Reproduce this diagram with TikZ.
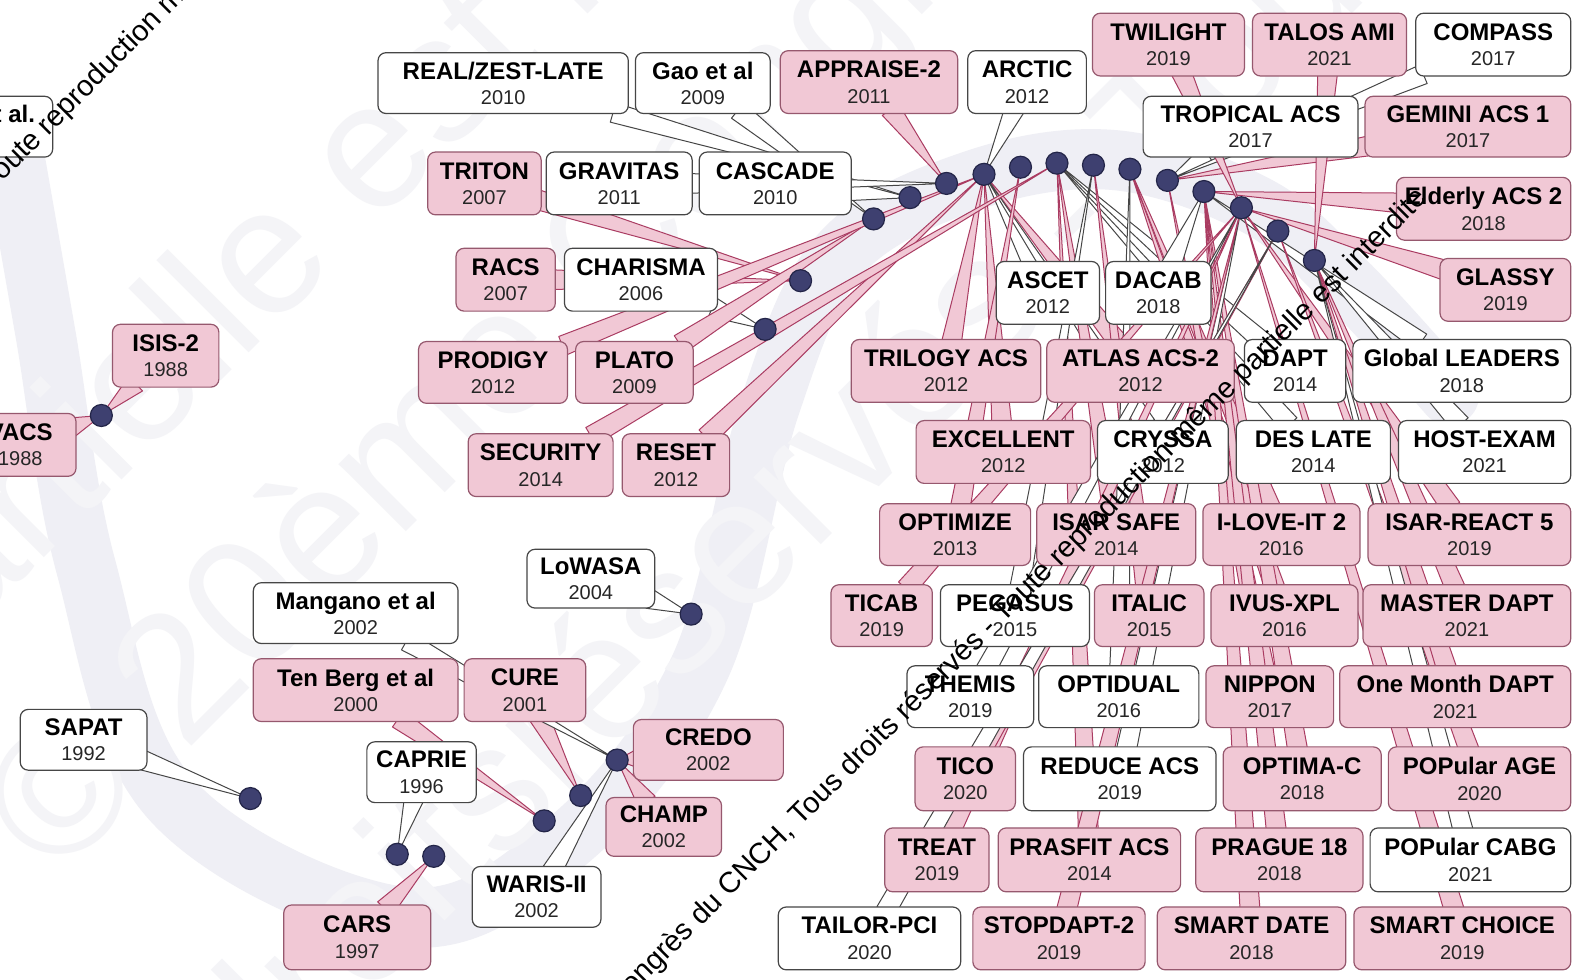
\documentclass[tikz,border=0pt]{standalone}
\usepackage{fontspec}
\setmainfont{Liberation Sans}
\usetikzlibrary{calc}
\definecolor{pinkfill}{RGB}{241,200,213}
\definecolor{pinkline}{RGB}{170,60,98}
\definecolor{boxpinkline}{RGB}{150,88,110}
\definecolor{greyline}{RGB}{70,70,70}
\definecolor{dotfill}{RGB}{62,64,112}
\definecolor{dotline}{RGB}{35,37,72}
\definecolor{bandcol}{RGB}{239,239,245}
\definecolor{faint}{RGB}{244,244,247}
\pgfdeclarelayer{back}
\pgfdeclarelayer{bg}
\pgfdeclarelayer{fg}
\pgfsetlayers{back,bg,main,fg}
\tikzset{
 boxbase/.style={rounded corners=4pt, line width=0.6pt, align=center, inner sep=0pt,
   font=\bfseries\fontsize{12}{12.7}\selectfont},
 pbox/.style={boxbase, draw=boxpinkline, fill=pinkfill},
 wbox/.style={boxbase, draw=greyline, fill=white},
 pwedge/.style={fill=pinkfill, draw=pinkline, line width=0.5pt, line join=round},
 wwedge/.style={fill=white, draw=greyline, line width=0.5pt, line join=round},
 tdot/.style={circle, fill=dotfill, draw=dotline, line width=0.6pt, minimum size=11pt, inner sep=0pt},
 bandline/.style={line width=30pt, draw=bandcol, line cap=round},
 faintwm/.style={rotate=45, text=faint, font=\fontsize{90}{90}\selectfont, inner sep=0pt},
 darkwm/.style={rotate=45, text=black, font=\fontsize{14.6}{16}\selectfont, inner sep=0pt},
}
\newcommand\yr[1]{{\mdseries\fontsize{10}{12.7}\selectfont\color{black!85}#1}}
\newcommand\wg[3]{%
 \path let \p1=($(#3.center)-(#2.center)$), \n1={atan2(\y1,\x1)} in
   ($(#2.\n1)!3pt!(#2.center)$) coordinate (wb);
 \filldraw[#1] ($(wb)!5pt!90:(#3.center)$) -- (#3.center) -- ($(wb)!5pt!-90:(#3.center)$) -- cycle;}
\newcommand\cb[9]{%
 \node[#6box, minimum width={(#4-#2)*0.5067pt}, minimum height={(#5-#3)*0.5067pt}]
   (#1) at ({(#2+#4)/2},{(#3+#5)/2}) {#7\\\yr{#8}};
 \begin{pgfonlayer}{bg}\wg{#6wedge}{#1}{#9}\end{pgfonlayer}}
\begin{document}
\begin{tikzpicture}[x=0.5067pt, y=-0.5067pt]
\useasboundingbox (0,0) rectangle (1568,967);
\begin{pgfonlayer}{back}
\fill[white] (0,0) rectangle (1568,967);
\draw[bandline] plot[smooth, tension=0.6] coordinates {(10,130) (45,330) (85,560) (170,790) (400,905) (560,830) (690,660) (760,400) (830,250) (960,178) (1100,158) (1240,203) (1330,280) (1430,390)};
\node[faintwm, anchor=base west] (fa) at (55,870) {© 20ème Congrès du CNCH,};
\node[faintwm, anchor=base east] (fb1) at (-105,699) {même };
\node[faintwm, anchor=base west] (fb2) at (-105,699) {partielle est interdite};
\node[faintwm, anchor=base east] (fc1) at (557,791) {Tous droits };
\node[faintwm, anchor=base west] (fc2) at (557,791) {réservés - Toute reproduction};
\end{pgfonlayer}
% dots
\begin{pgfonlayer}{fg}
\foreach \n/\x/\y in {88/100/410, 92/247/788, 96/392/843, 97/428/845, 00/537/810, 01/573/785,
  02/609/750, 04/682/606, 06/755/325, 07/790/277, 09/862/216, 10/898/195, 11/934/181,
  12/971/172, 13/1007/165, 14/1043/161, 15/1079/163, 16/1115/167, 17/1152/178,
  18/1188/189, 19/1225/205, 20/1261/228, 21/1297/257}
  {\node[tdot] (d\n) at (\x,\y) {};}
\end{pgfonlayer}
% boxes
\node[wbox, minimum width={152*0.5067pt}, minimum height={60*0.5067pt}] (etal) at (-24,125) {};
\node[anchor=base east, inner sep=0pt, font=\bfseries\fontsize{12}{12.7}\selectfont] (etaltxt) at (35,121) {et al.};
\cb{vacs}{-35}{408}{75}{470}{p}{VACS}{1988}{d88}
\cb{isis}{111}{320}{216}{382}{p}{ISIS-2}{1988}{d88}
\cb{sapat}{20}{700}{145}{760}{w}{SAPAT}{1992}{d92}
\cb{caprie}{362}{732}{470}{792}{w}{CAPRIE}{1996}{d96}
\cb{cars}{280}{893}{425}{957}{p}{CARS}{1997}{d97}
\cb{tenberg}{250}{650}{452}{712}{p}{Ten Berg et al}{2000}{d00}
\cb{cure}{458}{650}{578}{712}{p}{CURE}{2001}{d01}
\cb{mangano}{250}{575}{452}{635}{w}{Mangano et al}{2002}{d02}
\cb{credo}{625}{710}{773}{770}{p}{CREDO}{2002}{d02}
\cb{champ}{598}{787}{712}{845}{p}{CHAMP}{2002}{d02}
\cb{waris}{466}{855}{593}{915}{w}{WARIS-II}{2002}{d02}
\cb{lowasa}{520}{542}{646}{600}{w}{LoWASA}{2004}{d04}
\cb{charisma}{557}{245}{708}{307}{w}{CHARISMA}{2006}{d06}
\cb{racs}{450}{245}{548}{307}{p}{RACS}{2007}{d07}
\cb{triton}{422}{150}{534}{212}{p}{TRITON}{2007}{d07}
\cb{gao}{627}{52}{760}{112}{w}{Gao et al}{2009}{d09}
\cb{plato}{568}{337}{684}{398}{p}{PLATO}{2009}{d09}
\cb{real}{373}{52}{620}{112}{w}{REAL/ZEST-LATE}{2010}{d10}
\cb{cascade}{690}{150}{840}{212}{w}{CASCADE}{2010}{d10}
\cb{appraise}{770}{50}{945}{112}{p}{APPRAISE-2}{2011}{d11}
\cb{gravitas}{539}{150}{683}{212}{w}{GRAVITAS}{2011}{d11}
\cb{arctic}{955}{50}{1072}{112}{w}{ARCTIC}{2012}{d12}
\cb{prodigy}{413}{337}{560}{398}{p}{PRODIGY}{2012}{d12}
\cb{reset}{614}{428}{720}{490}{p}{RESET}{2012}{d12}
\cb{trilogy}{840}{335}{1027}{397}{p}{TRILOGY ACS}{2012}{d12}
\cb{atlas}{1033}{335}{1218}{397}{p}{ATLAS ACS-2}{2012}{d12}
\cb{ascet}{983}{258}{1085}{320}{w}{ASCET}{2012}{d12}
\cb{excellent}{904}{415}{1076}{477}{p}{EXCELLENT}{2012}{d12}
\cb{cryssa}{1083}{415}{1212}{477}{w}{CRYSSA}{2012}{d12}
\cb{optimize}{868}{497}{1017}{558}{p}{OPTIMIZE}{2013}{d13}
\cb{security}{462}{428}{605}{490}{p}{SECURITY}{2014}{d14}
\cb{dapt}{1228}{335}{1328}{397}{w}{DAPT}{2014}{d14}
\cb{deslate}{1220}{415}{1372}{477}{w}{DES LATE}{2014}{d14}
\cb{isarsafe}{1023}{497}{1180}{558}{p}{ISAR SAFE}{2014}{d14}
\cb{prasfit}{985}{817}{1165}{880}{p}{PRASFIT ACS}{2014}{d14}
\cb{pegasus}{928}{577}{1075}{638}{w}{PEGASUS}{2015}{d15}
\cb{italic}{1080}{577}{1188}{638}{p}{ITALIC}{2015}{d15}
\cb{iloveit}{1187}{497}{1342}{558}{p}{I-LOVE-IT 2}{2016}{d16}
\cb{ivus}{1195}{577}{1340}{638}{p}{IVUS-XPL}{2016}{d16}
\cb{optidual}{1025}{657}{1183}{718}{w}{OPTIDUAL}{2016}{d16}
\cb{tropical}{1128}{95}{1340}{155}{w}{TROPICAL ACS}{2017}{d17}
\cb{gemini}{1347}{95}{1550}{155}{p}{GEMINI ACS 1}{2017}{d17}
\cb{compass}{1397}{13}{1550}{75}{w}{COMPASS}{2017}{d17}
\cb{nippon}{1190}{657}{1316}{718}{p}{NIPPON}{2017}{d17}
\cb{dacab}{1091}{258}{1195}{320}{w}{DACAB}{2018}{d18}
\cb{elderly}{1378}{175}{1550}{237}{p}{Elderly ACS 2}{2018}{d18}
\cb{global}{1335}{335}{1550}{397}{w}{Global LEADERS}{2018}{d18}
\cb{optimac}{1207}{737}{1363}{800}{p}{OPTIMA-C}{2018}{d18}
\cb{prague}{1180}{817}{1345}{880}{p}{PRAGUE 18}{2018}{d18}
\cb{smartdate}{1142}{895}{1328}{957}{p}{SMART DATE}{2018}{d18}
\cb{twilight}{1078}{13}{1228}{75}{p}{TWILIGHT}{2019}{d19}
\cb{glassy}{1421}{255}{1550}{317}{p}{GLASSY}{2019}{d19}
\cb{isarreact}{1350}{497}{1550}{558}{p}{ISAR-REACT 5}{2019}{d19}
\cb{ticab}{820}{577}{920}{638}{p}{TICAB}{2019}{d19}
\cb{themis}{895}{657}{1020}{718}{w}{THEMIS}{2019}{d19}
\cb{reduce}{1010}{737}{1200}{800}{w}{REDUCE ACS}{2019}{d19}
\cb{treat}{873}{817}{976}{880}{p}{TREAT}{2019}{d19}
\cb{stopdapt}{960}{895}{1130}{957}{p}{STOPDAPT-2}{2019}{d19}
\cb{smartchoice}{1336}{895}{1550}{957}{p}{SMART CHOICE}{2019}{d19}
\cb{tico}{903}{737}{1002}{800}{p}{TICO}{2020}{d20}
\cb{popage}{1370}{737}{1550}{800}{p}{POPular AGE}{2020}{d20}
\cb{tailor}{768}{895}{948}{957}{w}{TAILOR-PCI}{2020}{d20}
\cb{talos}{1236}{13}{1388}{75}{p}{TALOS AMI}{2021}{d21}
\cb{hostexam}{1380}{415}{1550}{477}{w}{HOST-EXAM}{2021}{d21}
\cb{masterdapt}{1345}{577}{1550}{638}{p}{MASTER DAPT}{2021}{d21}
\cb{onemonth}{1322}{657}{1550}{718}{p}{One Month DAPT}{2021}{d21}
\cb{popcabg}{1352}{817}{1550}{880}{w}{POPular CABG}{2021}{d21}
% dark watermark
\begin{pgfonlayer}{fg}
\node[darkwm, anchor=base east] (wm1) at (1410,196) {© 20ème Congrès du CNCH, Tous droits réservés - Toute reproduction même partielle est interdite};
\node[darkwm, anchor=base west] (wm2) at (-8,190) {Toute reproduction même partielle est interdite};
\end{pgfonlayer}
\end{tikzpicture}
\end{document}
